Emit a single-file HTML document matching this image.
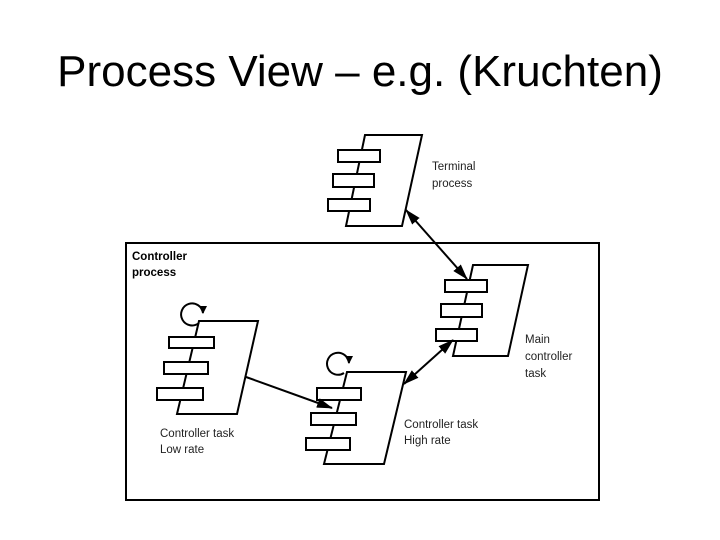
<!DOCTYPE html>
<html><head><meta charset="utf-8"><style>
html,body{margin:0;padding:0;background:#fff;width:720px;height:540px;overflow:hidden}
</style></head><body>
<svg width="720" height="540" xmlns="http://www.w3.org/2000/svg">
<defs>
<marker id="a" markerWidth="16" markerHeight="10" refX="15" refY="5" orient="auto-start-reverse" markerUnits="userSpaceOnUse"><path d="M0,0 L16,5 L0,10 z" fill="#000"/></marker>
<marker id="s" markerWidth="8" markerHeight="8" refX="4" refY="7" orient="0" markerUnits="userSpaceOnUse"><path d="M0,0 L8,0 L4,8 z" fill="#000"/></marker>
</defs>
<text x="360" y="86" font-family="Liberation Sans, sans-serif" font-size="44" text-anchor="middle">Process View – e.g. (Kruchten)</text>
<g fill="#fff" stroke="#000" stroke-width="2">
<rect x="126" y="243" width="473" height="257" />
<polygon points="365,135 422,135 402,226 346,226"/>
<rect x="338" y="150" width="42" height="12"/>
<rect x="333" y="174" width="41" height="13"/>
<rect x="328" y="199" width="42" height="12"/>
<polygon points="473,265 528,265 508,356 453,356"/>
<rect x="445" y="280" width="42" height="12"/>
<rect x="441" y="304" width="41" height="13"/>
<rect x="436" y="329" width="41" height="12"/>
<polygon points="199,321 258,321 237,414 177,414"/>
<rect x="169" y="337" width="45" height="11"/>
<rect x="164" y="362" width="44" height="12"/>
<rect x="157" y="388" width="46" height="12"/>
<polygon points="347,372 406,372 384,464 324,464"/>
<rect x="317" y="388" width="44" height="12"/>
<rect x="311" y="413" width="45" height="12"/>
<rect x="306" y="438" width="44" height="12"/>
</g>
<g fill="none" stroke="#000" stroke-width="2">
<line x1="406" y1="210" x2="467" y2="279" marker-start="url(#a)" marker-end="url(#a)"/>
<line x1="453" y1="340" x2="404" y2="384" marker-start="url(#a)" marker-end="url(#a)"/>
<line x1="246" y1="377" x2="332" y2="408" marker-end="url(#a)"/>
<path d="M199,323 A11,11 0 1 1 203,313" marker-end="url(#s)"/>
<path d="M344,373 A11,11 0 1 1 349,363" marker-end="url(#s)"/>
</g>
<g font-family="Liberation Sans, sans-serif" font-size="11.5" fill="#222">
<text x="432" y="170">Terminal</text><text x="432" y="187">process</text>
<text x="525" y="343">Main</text><text x="525" y="360">controller</text><text x="525" y="377">task</text>
<text x="160" y="437">Controller task</text><text x="160" y="453">Low rate</text>
<text x="404" y="428">Controller task</text><text x="404" y="444">High rate</text>
<text x="132" y="260" font-weight="bold" fill="#000">Controller</text><text x="132" y="276" font-weight="bold" fill="#000">process</text>
</g>
</svg>
</body></html>
